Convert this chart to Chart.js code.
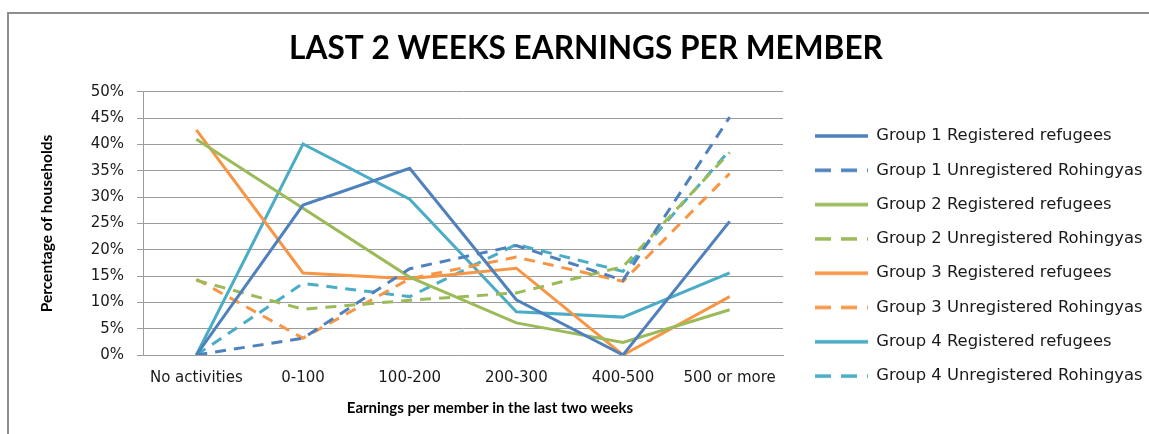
<!DOCTYPE html>
<html><head><meta charset="utf-8">
<script src="https://cdn.jsdelivr.net/npm/chart.js@4.4.1/dist/chart.umd.min.js"></script>
<style>
html,body{margin:0;padding:0;background:#fff;overflow:hidden;}
#wrap{position:relative;width:1149px;height:434px;overflow:hidden;}
#frame{position:absolute;left:7px;top:12px;width:1300px;height:600px;border-top:2px solid #8e8e8e;border-left:2px solid #8e8e8e;}
canvas{position:absolute;left:0;top:0;}
</style></head><body>
<div id="wrap"><div id="frame"></div><canvas id="c" width="1149" height="434"></canvas></div>
<script>
const chartTitle = 'LAST 2 WEEKS EARNINGS PER MEMBER';
const xTitle = 'Earnings per member in the last two weeks';
const yTitle = 'Percentage of households';
const categories = ['No activities', '0-100', '100-200', '200-300', '400-500', '500 or more'];
const yTicks = [0, 5, 10, 15, 20, 25, 30, 35, 40, 45, 50];

const g1Registered   = [0, 28.5, 35.5, 10.5, 0, 25.4];
const g1Unregistered = [0, 3.2, 16.4, 20.8, 14.2, 45.2];
const g2Registered   = [41.0, 27.9, 14.8, 6.1, 2.4, 8.6];
const g2Unregistered = [14.2, 8.7, 10.4, 11.8, 16.8, 38.5];
const g3Registered   = [42.8, 15.6, 14.5, 16.5, 0, 11.1];
const g3Unregistered = [14.4, 3.2, 14.5, 18.6, 14.0, 34.5];
const g4Registered   = [0, 40.1, 29.6, 8.2, 7.2, 15.6];
const g4Unregistered = [0, 13.6, 11.1, 21.0, 15.9, 38.9];

const seriesNames = [
  'Group 1 Registered refugees', 'Group 1 Unregistered Rohingyas',
  'Group 2 Registered refugees', 'Group 2 Unregistered Rohingyas',
  'Group 3 Registered refugees', 'Group 3 Unregistered Rohingyas',
  'Group 4 Registered refugees', 'Group 4 Unregistered Rohingyas'
];
const seriesData = [g1Registered, g1Unregistered, g2Registered, g2Unregistered,
                    g3Registered, g3Unregistered, g4Registered, g4Unregistered];
const groupColors = ['#4F81BD', '#9BBB59', '#F79646', '#4BACC6'];

const DASH = [11, 8];
const LEGEND_DASH = [16, 10];
const SWATCH_W = 53;

function legendSwatch(color, dashed) {
  const c = document.createElement('canvas');
  c.width = SWATCH_W; c.height = 6;
  const g = c.getContext('2d');
  g.strokeStyle = color; g.lineWidth = 3.5;
  g.setLineDash(dashed ? LEGEND_DASH : []);
  g.beginPath(); g.moveTo(0, 3); g.lineTo(SWATCH_W, 3); g.stroke();
  return c;
}

const datasets = seriesData.map((d, i) => ({
  label: seriesNames[i],
  data: d,
  borderColor: groupColors[Math.floor(i / 2)],
  backgroundColor: groupColors[Math.floor(i / 2)],
  borderWidth: 3,
  borderDash: i % 2 === 1 ? DASH : [],
  pointRadius: 0,
  pointHoverRadius: 0,
  tension: 0,
  fill: false
}));

const GRID = '#9c9c9c';
const PAD_LEFT = 23;
const PLOT_LEFT = 143, PLOT_RIGHT = 783, PLOT_BOTTOM = 355, H = 434, W = 1149;
const LEG_PAD = 17.9, LEG_X = 815, LEG_FIRST_Y = 136, LEG_FONT = 16.4;
const XTITLE_X = 490, XTITLE_Y = 408;

const legendPlacer = {
  id: 'legendPlacer',
  afterInit(chart) {
    const lg = chart.legend;
    const fit = lg.fit.bind(lg);
    lg.fit = function () { fit(); this.width = W - PLOT_RIGHT; };
  },
  afterLayout(chart) {
    const lg = chart.legend;
    const w = lg.width, h = lg.height;
    lg.left = LEG_X - LEG_PAD; lg.right = lg.left + w;
    lg.top = LEG_FIRST_Y - LEG_FONT / 2 - LEG_PAD; lg.bottom = lg.top + h;
  }
};

const xAxisTitle = {
  id: 'xAxisTitle',
  afterDraw(chart) {
    const ctx = chart.ctx;
    ctx.save();
    ctx.font = 'bold 15px Lato';
    ctx.fillStyle = '#000';
    ctx.textAlign = 'center';
    ctx.textBaseline = 'middle';
    ctx.fillText(xTitle, XTITLE_X, XTITLE_Y);
    ctx.restore();
  }
};

Chart.defaults.font.family = 'DejaVu Sans';
Chart.defaults.color = '#1a1a1a';

new Chart(document.getElementById('c'), {
  type: 'line',
  data: { labels: categories, datasets },
  plugins: [legendPlacer, xAxisTitle],
  options: {
    responsive: false,
    animation: false,
    devicePixelRatio: 1,
    layout: { padding: { left: PAD_LEFT, top: 0, right: 0, bottom: 0 } },
    plugins: {
      tooltip: { enabled: false },
      title: {
        display: true, text: chartTitle, color: '#000',
        font: { family: 'Lato', weight: 'bold', size: 31.6, lineHeight: 1.2 },
        padding: { top: 30, bottom: 24 }
      },
      legend: {
        position: 'right', align: 'start',
        labels: {
          usePointStyle: true, pointStyleWidth: SWATCH_W, boxWidth: SWATCH_W,
          padding: LEG_PAD, color: '#1a1a1a',
          font: { family: 'DejaVu Sans', size: LEG_FONT },
          generateLabels(chart) {
            const items = Chart.defaults.plugins.legend.labels.generateLabels(chart);
            items.forEach((it, i) => {
              it.pointStyle = legendSwatch(groupColors[Math.floor(i / 2)], i % 2 === 1);
            });
            return items;
          }
        }
      }
    },
    scales: {
      x: {
        offset: true,
        grid: { display: false, drawTicks: false },
        border: { display: true, color: GRID, width: 1 },
        ticks: { padding: 14, color: '#1a1a1a', font: { family: 'DejaVu Sans', size: 15 }, maxRotation: 0, autoSkip: false },
        title: { display: false, text: xTitle },
        afterFit(scale) { scale.height = H - PLOT_BOTTOM; }
      },
      y: {
        min: 0, max: 50,
        afterBuildTicks(scale) { scale.ticks = yTicks.map(v => ({ value: v })); },
        grid: { color: GRID, lineWidth: 1, drawTicks: true, tickLength: 6, tickColor: GRID },
        border: { display: true, color: GRID, width: 1 },
        ticks: { padding: 13, color: '#1a1a1a', font: { family: 'DejaVu Sans', size: 15 }, callback: v => v + '%' },
        title: { display: true, text: yTitle, color: '#000', font: { family: 'Lato', weight: 'bold', size: 15.5 }, padding: { top: 14.7, bottom: 0 } },
        afterFit(scale) { scale.width = PLOT_LEFT - PAD_LEFT; }
      }
    }
  }
});
</script>
</body></html>
